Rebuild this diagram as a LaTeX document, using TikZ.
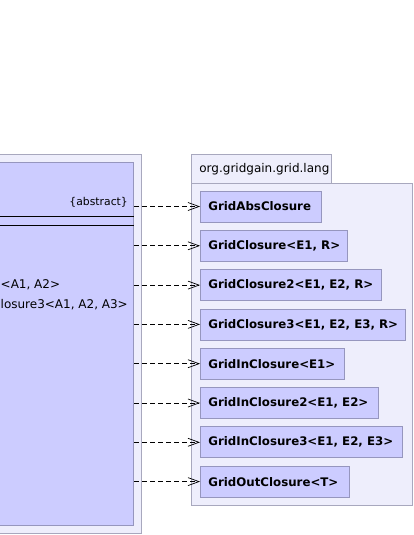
\documentclass[tikz,border=0pt]{standalone}
\usepackage{fontspec}
\setmainfont{DejaVu Sans}
\usetikzlibrary{arrows.meta}

\definecolor{pkgfill}{RGB}{238,238,252}
\definecolor{pkgline}{RGB}{168,168,190}
\definecolor{clsfill}{RGB}{204,204,255}
\definecolor{clsline}{RGB}{150,150,190}

\tikzset{
  pkgbox/.style={draw=pkgline,fill=pkgfill,line width=0.8pt,inner sep=0pt},
  clsbox/.style={draw=clsline,fill=clsfill,line width=0.8pt,inner sep=0pt},
  dep/.style={line width=0.7pt,dash pattern=on 5pt off 3pt,-{Straight Barb[length=11pt,width=8pt]}}
}

\begin{document}
\begin{tikzpicture}[x=1pt,y=-1pt,font=\fontsize{12}{14}\selectfont]
\useasboundingbox (0,0) rectangle (414,535);
\clip (0,0) rectangle (414,535);

% left package and class (cut off)
\node[pkgbox,anchor=north east,minimum width=160pt,minimum height=379pt] (outer) at (142,154) {};
\node[clsbox,anchor=north east,minimum width=170pt,minimum height=363pt] (src) at (134,162) {};
\draw[line width=0.8pt] (src.west |- 0,216) -- (src.east |- 0,216);
\draw[line width=0.8pt] (src.west |- 0,225) -- (src.east |- 0,225);
\node[anchor=east,inner sep=0pt,font=\fontsize{10.8}{12}\selectfont] (abs) at (128,202) {\{abstract\}};
\node[anchor=west,inner sep=0pt] (ops1) at (0.5,285) {<A1, A2>};
\node[anchor=west,inner sep=0pt] (ops2) at (0.5,305) {losure3<A1, A2, A3>};

% package org.gridgain.grid.lang
\node[pkgbox,anchor=north west,minimum width=221pt,minimum height=322pt] (pkg) at (191,183) {};
\node[pkgbox,anchor=north west,minimum width=140pt,minimum height=29pt]
      (tab) at (191,154) {\makebox[124pt][l]{org.gridgain.grid.lang}};

\foreach \n/\w/\t [count=\i] in {
  121/GridAbsClosure,
  147/{GridClosure<E1, R>},
  181/{GridClosure2<E1, E2, R>},
  205/{GridClosure3<E1, E2, E3, R>},
  144/{GridInClosure<E1>},
  178/{GridInClosure2<E1, E2>},
  202/{GridInClosure3<E1, E2, E3>},
  149/{GridOutClosure<T>}}{
  \pgfmathsetmacro\tw{\n-16}
  \node[clsbox,anchor=west,minimum width=\n pt,minimum height=31pt,
        font=\fontsize{11.8}{14}\selectfont\bfseries]
        (c\i) at (200,{206.5+39.3*(\i-1)}) {\makebox[\tw pt][l]{\w}};
}

\foreach \i in {1,...,8}{
  \draw[dep] (src.east |- c\i.west) -- (c\i.west);
}
\end{tikzpicture}
\end{document}
